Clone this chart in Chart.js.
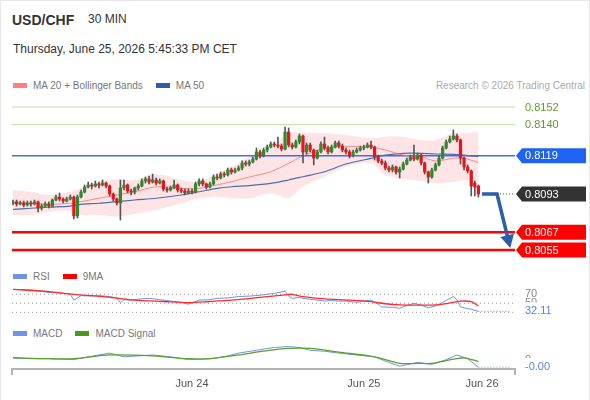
<!DOCTYPE html>
<html>
<head>
<meta charset="utf-8">
<title>USD/CHF 30 MIN</title>
<script src="https://cdn.jsdelivr.net/npm/chart.js@4.4.1/dist/chart.umd.min.js"></script>
<style>
  html, body { margin: 0; padding: 0; background: #fff; }
  body { width: 590px; height: 400px; position: relative; overflow: hidden;
         font-family: "Liberation Sans", Arial, sans-serif; }
  #frame { position: absolute; left: 0; top: 0; width: 590px; height: 400px; box-sizing: border-box;
           border: 1px solid #e6e6e6; border-bottom: none; pointer-events: none; }
  canvas { position: absolute; left: 0; }
  .txt { position: absolute; white-space: nowrap; }
  .legend { position: absolute; left: 13px; font-size: 10px; line-height: 10px; color: #777; white-space: nowrap; }
  .legend span { margin-right: 13px; }
  .legend i { display: inline-block; width: 14px; height: 5px; margin-right: 6px; vertical-align: 1px; }
</style>
</head>
<body>
<div class="txt" style="left:12px;top:13px;font-size:14px;line-height:14px;font-weight:bold;color:#333">USD/CHF</div>
<div class="txt" style="left:88px;top:13px;font-size:12px;line-height:12px;color:#333">30 MIN</div>
<div class="txt" style="left:13px;top:43px;font-size:12px;line-height:12px;color:#333">Thursday, June 25, 2026 5:45:33 PM CET</div>
<div class="legend" style="top:81px"><span><i style="background:#ff7f7f"></i>MA 20 + Bollinger Bands</span><span><i style="background:#2d5ea8"></i>MA 50</span></div>
<div class="txt" style="right:5px;top:81px;font-size:10px;line-height:10px;color:#aaa">Research © 2026 Trading Central</div>
<canvas id="main" width="590" height="168" style="top:95px"></canvas>
<div class="legend" style="top:272px"><span><i style="background:#6f93ea"></i>RSI</span><span><i style="background:#ff0000"></i>9MA</span></div>
<canvas id="rsi" width="590" height="39" style="top:283px"></canvas>
<div class="legend" style="top:329px"><span><i style="background:#6f93ea"></i>MACD</span><span><i style="background:#4a9a1a"></i>MACD Signal</span></div>
<canvas id="macd" width="590" height="58" style="top:340px"></canvas>
<div id="frame"></div>

<script>
// ---- candles, 30 min, one per slot (index 0 = first candle on the left)
const open = [
  0.80869,0.80876,0.80862,0.80869,0.80855,0.80869,0.80862,0.80876,0.80835,0.80848,
  0.80862,0.80848,0.80889,0.80909,0.80896,0.80882,0.80896,0.80909,0.80781,0.80909,
  0.80943,0.80977,0.80991,0.80984,0.80998,0.80991,0.81004,0.80984,0.80930,0.80896,
  0.80869,0.80971,0.80991,0.80950,0.80943,0.80971,0.80984,0.81018,0.81032,0.81011,
  0.81025,0.81004,0.81018,0.80964,0.80957,0.80971,0.80991,0.80957,0.80950,0.80937,
  0.80950,0.80943,0.80998,0.81018,0.80998,0.80977,0.80998,0.81045,0.81038,0.81065,
  0.81059,0.81093,0.81079,0.81093,0.81106,0.81140,0.81133,0.81147,0.81167,0.81215,
  0.81188,0.81228,0.81249,0.81269,0.81262,0.81255,0.81235,0.81350,0.81262,0.81249,
  0.81283,0.81323,0.81215,0.81262,0.81228,0.81174,0.81215,0.81269,0.81242,0.81215,
  0.81249,0.81276,0.81255,0.81228,0.81215,0.81188,0.81215,0.81228,0.81242,0.81249,
  0.81262,0.81249,0.81181,0.81154,0.81140,0.81106,0.81093,0.81113,0.81079,0.81099,
  0.81133,0.81160,0.81181,0.81167,0.81194,0.81140,0.81079,0.81045,0.81093,0.81127,
  0.81174,0.81242,0.81283,0.81303,0.81323,0.81296,0.81174,0.81113,0.81086,0.81004,
  0.80984];
const high = [
  0.80889,0.80889,0.80882,0.80882,0.80882,0.80882,0.80889,0.80882,0.80862,0.80876,
  0.80876,0.80896,0.80923,0.80937,0.80903,0.80909,0.80923,0.80916,0.80923,0.80957,
  0.80991,0.81011,0.81004,0.81018,0.81011,0.81025,0.81011,0.80991,0.80937,0.80903,
  0.81025,0.81025,0.80998,0.80964,0.80977,0.80998,0.81032,0.81045,0.81052,0.81065,
  0.81038,0.81032,0.81025,0.80977,0.80984,0.81025,0.80998,0.80971,0.80964,0.80964,
  0.80964,0.81011,0.81032,0.81032,0.81004,0.81011,0.81059,0.81065,0.81079,0.81079,
  0.81106,0.81106,0.81106,0.81120,0.81154,0.81154,0.81160,0.81181,0.81242,0.81228,
  0.81242,0.81262,0.81283,0.81283,0.81316,0.81269,0.81384,0.81378,0.81276,0.81296,
  0.81337,0.81330,0.81276,0.81276,0.81235,0.81228,0.81283,0.81316,0.81255,0.81262,
  0.81289,0.81289,0.81269,0.81242,0.81228,0.81228,0.81242,0.81255,0.81262,0.81276,
  0.81289,0.81255,0.81194,0.81167,0.81154,0.81120,0.81127,0.81120,0.81113,0.81147,
  0.81174,0.81194,0.81262,0.81208,0.81201,0.81147,0.81086,0.81106,0.81140,0.81188,
  0.81255,0.81296,0.81323,0.81364,0.81337,0.81303,0.81181,0.81127,0.81093,0.81018,
  0.80991];
const low = [
  0.80855,0.80848,0.80855,0.80842,0.80848,0.80848,0.80855,0.80808,0.80821,0.80842,
  0.80835,0.80842,0.80882,0.80882,0.80869,0.80876,0.80889,0.80760,0.80767,0.80903,
  0.80937,0.80971,0.80964,0.80977,0.80971,0.80984,0.80971,0.80916,0.80882,0.80855,
  0.80753,0.80957,0.80937,0.80923,0.80930,0.80957,0.80977,0.81004,0.80998,0.81004,
  0.80991,0.80998,0.80950,0.80943,0.80950,0.80964,0.80943,0.80937,0.80923,0.80930,
  0.80930,0.80937,0.80984,0.80984,0.80964,0.80971,0.80991,0.81025,0.81032,0.81045,
  0.81052,0.81065,0.81072,0.81086,0.81093,0.81120,0.81120,0.81140,0.81160,0.81174,
  0.81181,0.81215,0.81242,0.81249,0.81242,0.81221,0.81228,0.81249,0.81235,0.81242,
  0.81269,0.81140,0.81201,0.81215,0.81127,0.81167,0.81208,0.81228,0.81201,0.81208,
  0.81242,0.81242,0.81215,0.81201,0.81174,0.81181,0.81208,0.81221,0.81228,0.81242,
  0.81235,0.81160,0.81140,0.81127,0.81093,0.81079,0.81079,0.81065,0.81038,0.81093,
  0.81127,0.81154,0.81154,0.81160,0.81127,0.81065,0.81004,0.81038,0.81086,0.81120,
  0.81167,0.81235,0.81276,0.81296,0.81283,0.81133,0.81093,0.81072,0.80916,0.80916,
  0.80909];
const close = [
  0.80876,0.80862,0.80869,0.80855,0.80869,0.80862,0.80876,0.80835,0.80848,0.80862,
  0.80848,0.80889,0.80909,0.80896,0.80882,0.80896,0.80909,0.80781,0.80909,0.80943,
  0.80977,0.80991,0.80984,0.80998,0.80991,0.81004,0.80984,0.80930,0.80896,0.80869,
  0.80971,0.80991,0.80950,0.80943,0.80971,0.80984,0.81018,0.81032,0.81011,0.81025,
  0.81004,0.81018,0.80964,0.80957,0.80971,0.80991,0.80957,0.80950,0.80937,0.80950,
  0.80943,0.80998,0.81018,0.80998,0.80977,0.80998,0.81045,0.81038,0.81065,0.81059,
  0.81093,0.81079,0.81093,0.81106,0.81140,0.81133,0.81147,0.81167,0.81215,0.81188,
  0.81228,0.81249,0.81269,0.81262,0.81255,0.81235,0.81350,0.81262,0.81249,0.81283,
  0.81323,0.81215,0.81262,0.81228,0.81174,0.81215,0.81269,0.81242,0.81215,0.81249,
  0.81276,0.81255,0.81228,0.81215,0.81188,0.81215,0.81228,0.81242,0.81249,0.81262,
  0.81249,0.81181,0.81154,0.81140,0.81106,0.81093,0.81113,0.81079,0.81099,0.81133,
  0.81160,0.81181,0.81167,0.81194,0.81140,0.81079,0.81045,0.81093,0.81127,0.81174,
  0.81242,0.81283,0.81303,0.81323,0.81296,0.81174,0.81113,0.81086,0.80984,0.80977,
  0.80930];

// ---- overlays at these candle indexes
const maIdx   = [0,5,10,16,19,24,29,34,40,47,52,57,61,66,72,77,81,87,93,100,104,109,114,118,123,126,130];
const ma20    = [0.80871,0.80867,0.80860,0.80867,0.80878,0.80901,0.80923,0.80945,0.80979,0.80968,0.80968,0.80991,0.81013,0.81045,0.81081,0.81138,0.81188,0.81240,0.81251,0.81247,0.81228,0.81194,0.81183,0.81154,0.81172,0.81172,0.81143];
const bbUpper = [0.80957,0.80945,0.80923,0.80945,0.80968,0.81013,0.81030,0.81025,0.81065,0.81025,0.81013,0.81070,0.81115,0.81183,0.81251,0.81342,0.81346,0.81342,0.81330,0.81308,0.81319,0.81319,0.81296,0.81296,0.81342,0.81342,0.81352];
const bbLower = [0.80787,0.80787,0.80810,0.80816,0.80787,0.80787,0.80776,0.80794,0.80821,0.80867,0.80901,0.80911,0.80901,0.80901,0.80935,0.80901,0.80979,0.81047,0.81115,0.81138,0.81059,0.81032,0.81018,0.81004,0.81011,0.81025,0.81011];
const ma50    = [0.80826,0.80833,0.80840,0.80848,0.80860,0.80867,0.80878,0.80889,0.80901,0.80923,0.80945,0.80968,0.80979,0.80987,0.81002,0.81025,0.81047,0.81081,0.81133,0.81172,0.81194,0.81206,0.81206,0.81201,0.81199,0.81194,0.81183];

// key levels
const resistances = [0.8152, 0.8140];
const pivot = 0.8119;
const supports = [0.8067, 0.8055];
const lastPrice = 0.8093;
// scenario arrow (index, price)
const arrowIdx   = [131, 135.2, 138.1];
const arrowPrice = [0.8093, 0.8093, 0.80643];

// ---- RSI panel
const rsiIdx = [0,3,6,10,13,16,17,19,22,24,27,29,30,31,33,36,38,41,44,47,49,52,55,57,60,63,66,69,73,76,77,78,80,81,84,87,89,91,93,96,98,100,102,103,106,108,110,112,114,116,118,120,123,124,125,127,128,130];
const rsi    = [81,80,79,74,73,70,57,67,66,67,65,62,51,58,57,60,61,58,55,52,48,57,58,61,62,65,66,68,72,77,66,61,63,61,58,55,56,55,55,52,55,57,48,42,41,39,45,50,46,40,44,52,65,58,42,38,37,32.11];
const ma9Idx = [0,10,17,25,34,42,49,55,61,69,76,78,81,87,94,100,104,108,113,118,123,125,128,130];
const rsiMa9 = [81,76,70,65,57,54,51.6,54,57,63,68.5,70,64.7,59.8,57,53.6,49,46.4,46,46.4,52,54.9,53.6,44];
const rsiLevels = [70, 50, 30];

// ---- MACD panel
const macdIdx = [0,5,10,17,21,24,27,31,35,39,44,49,55,59,63,68,73,77,80,83,87,91,96,101,105,108,113,117,121,124,127,130];
const macd    = [0.0002,0.0001,0.0001,0.0000,0.0003,0.0005,0.0007,0.0003,0.0004,0.0005,0.0003,0.0000,0.0001,0.0003,0.0007,0.0010,0.0013,0.0014,0.0013,0.0010,0.0009,0.0007,0.0005,0.0003,-0.0003,-0.0007,-0.0003,-0.0005,0.0000,0.0005,0.0001,-0.0008];
const sigIdx  = [0,10,17,27,39,49,55,63,70,77,83,91,101,108,113,117,121,124,126,130];
const signal  = [0.0002,0.0001,0.0001,0.0005,0.0004,0.0001,0.0001,0.0005,0.0009,0.0012,0.0012,0.0008,0.0003,-0.0004,-0.0004,-0.0004,-0.0001,0.0001,0.0002,-0.0002];

// time axis
const tickIdx = [50, 98, 131];
const tickLabels = ['Jun 24', 'Jun 25', 'Jun 26'];

const X_MIN = -0.28, X_MAX = 140.22;
const PAD = { left: 12, right: 75, top: 0, bottom: 0 };
const FONT = '"Liberation Sans", Arial, sans-serif';
const UP = '#2f8a2f', DOWN = '#e8141c';

Chart.defaults.font.family = FONT;
Chart.defaults.animation = false;
Chart.defaults.responsive = false;
Chart.defaults.plugins.legend.display = false;
Chart.defaults.plugins.tooltip.enabled = false;
Chart.defaults.elements.point.radius = 0;

const pts = (xs, ys) => xs.map((x, k) => ({ x: x, y: ys[k] }));
const flat = v => [{ x: X_MIN, y: v }, { x: X_MAX, y: v }];
const isUp = i => close[i] >= open[i];

function line(data, color, width, extra) {
  return Object.assign({ type: 'line', data: data, borderColor: color, borderWidth: width,
    pointRadius: 0, fill: false, tension: 0 }, extra || {});
}

function tag(ctx, x, y, text, bg, fg) {
  const h = 15, w = 70;
  ctx.save();
  if (bg) {
    ctx.fillStyle = bg;
    ctx.beginPath();
    ctx.moveTo(x, y);
    ctx.lineTo(x + 6, y - h / 2);
    ctx.lineTo(x + w, y - h / 2);
    ctx.lineTo(x + w, y + h / 2);
    ctx.lineTo(x + 6, y + h / 2);
    ctx.closePath();
    ctx.fill();
  }
  ctx.fillStyle = fg;
  ctx.font = '11px ' + FONT;
  ctx.textBaseline = 'middle';
  ctx.fillText(text, x + 9, y + 0.5);
  ctx.restore();
}

const mainOverlay = {
  id: 'mainOverlay',
  afterDatasetsDraw(chart) {
    const { ctx, chartArea, scales: { y } } = chart;
    const x0 = chartArea.right + 1;
    resistances.forEach(v => tag(ctx, x0, y.getPixelForValue(v), v.toFixed(4), null, '#5a9e2f'));
    tag(ctx, x0, y.getPixelForValue(pivot), pivot.toFixed(4), '#1f63f2', '#fff');
    tag(ctx, x0, y.getPixelForValue(lastPrice), lastPrice.toFixed(4), '#333333', '#fff');
    supports.forEach(v => tag(ctx, x0, y.getPixelForValue(v), v.toFixed(4), '#ff0000', '#fff'));

    // arrow head at the end of the scenario line
    const meta = chart.getDatasetMeta(chart.data.datasets.findIndex(d => d.label === 'arrow'));
    const p = meta.data, a = p[p.length - 2], b = p[p.length - 1];
    const ang = Math.atan2(b.y - a.y, b.x - a.x);
    const len = 12, half = 7;
    ctx.save();
    ctx.fillStyle = '#2d5ea8';
    ctx.translate(b.x, b.y);
    ctx.rotate(ang);
    ctx.beginPath();
    ctx.moveTo(len, 0);
    ctx.lineTo(-1, -half);
    ctx.lineTo(-1, half);
    ctx.closePath();
    ctx.fill();
    ctx.restore();
  }
};

new Chart(document.getElementById('main'), {
  type: 'bar',
  data: {
    datasets: [
      { label: 'body', type: 'bar', grouped: false, order: 0, barThickness: 2.6, minBarLength: 1,
        data: open.map((o, i) => ({ x: i, y: [o, close[i]] })),
        backgroundColor: c => isUp(c.dataIndex) ? UP : DOWN },
      { label: 'wick', type: 'bar', grouped: false, order: 1, barThickness: 1, minBarLength: 1,
        data: open.map((o, i) => ({ x: i, y: [low[i], high[i]] })),
        backgroundColor: '#555' },
      line(pts(maIdx, ma20), 'rgba(255,105,105,0.75)', 1, { order: 2, tension: 0.3 }),
      line(pts(maIdx, ma50), '#4a6fb0', 1.2, { order: 2, tension: 0.3 }),
      line(flat(resistances[0]), '#b9dca2', 1, { order: 3 }),
      line(flat(resistances[1]), '#b9dca2', 1, { order: 3 }),
      line(flat(pivot), '#3b6ef0', 1.5, { order: 3 }),
      line(flat(supports[0]), '#ff0000', 2.5, { order: 3 }),
      line(flat(supports[1]), '#ff0000', 2.5, { order: 3 }),
      line([{ x: 135.2, y: lastPrice }, { x: X_MAX, y: lastPrice }], '#555', 1, { order: 3, borderDash: [1, 2] }),
      line(pts(arrowIdx, arrowPrice), '#2d5ea8', 3.5, { label: 'arrow', order: -1, borderJoinStyle: 'miter', clip: false }),
      line(pts(maIdx, bbUpper), 'rgba(0,0,0,0)', 0,
        { order: 5, tension: 0.3, fill: '+1', backgroundColor: 'rgba(250,110,110,0.19)' }),
      line(pts(maIdx, bbLower), 'rgba(0,0,0,0)', 0, { order: 5, tension: 0.3 })
    ]
  },
  options: {
    layout: { padding: PAD },
    scales: {
      x: { type: 'linear', min: X_MIN, max: X_MAX, offset: false, display: false },
      y: { min: 0.804617, max: 0.816014, display: false }
    }
  },
  plugins: [mainOverlay]
});

// right-hand value labels for the lower panels
function sideLabels(chart, items) {
  const { ctx, chartArea, scales: { y } } = chart;
  const x = chartArea.right + 10;
  ctx.save();
  ctx.font = '11px ' + FONT;
  ctx.textBaseline = 'middle';
  items.forEach(it => {
    const py = y.getPixelForValue(it.v);
    if (it.bg) {
      ctx.fillStyle = '#fff';
      ctx.fillRect(x - 2, py - 9, 40, 17);
    }
    ctx.fillStyle = it.color;
    ctx.fillText(it.t, x, py);
  });
  ctx.restore();
}

new Chart(document.getElementById('rsi'), {
  type: 'line',
  data: {
    datasets: [
      line(pts(rsiIdx, rsi), '#6f93ea', 1, { order: 1 }),
      line(pts(ma9Idx, rsiMa9), '#ff2a2a', 1.3, { order: 0, tension: 0.3 }),
      ...rsiLevels.map(v => line(flat(v), '#9a9a9a', 1, { order: 2, borderDash: [1, 3] })),
      line([{ x: 130, y: rsi[rsi.length - 1] }, { x: 139.2, y: rsi[rsi.length - 1] }], '#6f93ea', 1, { order: 1, borderDash: [1, 2] })
    ]
  },
  options: {
    layout: { padding: PAD },
    scales: {
      x: { type: 'linear', min: X_MIN, max: X_MAX, display: false },
      y: { min: 8.44, max: 95.1, display: false }
    }
  },
  plugins: [{
    id: 'rsiLabels',
    afterDraw(chart) {
      sideLabels(chart, [
        { v: 70, t: '70', color: '#888' },
        { v: 50, t: '50', color: '#888' },
        { v: rsi[rsi.length - 1], t: rsi[rsi.length - 1].toFixed(2), color: '#5b7fe0', bg: true }
      ]);
    }
  }]
});

new Chart(document.getElementById('macd'), {
  type: 'line',
  data: {
    datasets: [
      line(pts(macdIdx, macd), '#6f93ea', 1, { order: 1 }),
      line(pts(sigIdx, signal), '#5aa02c', 1.3, { order: 0, tension: 0.3 }),
      line([{ x: 130, y: macd[macd.length - 1] }, { x: 139.2, y: macd[macd.length - 1] }], '#6f93ea', 1, { order: 1, borderDash: [1, 2] })
    ]
  },
  options: {
    layout: { padding: PAD },
    scales: {
      x: {
        type: 'linear', min: X_MIN, max: X_MAX,
        afterBuildTicks: ax => { ax.ticks = tickIdx.map(v => ({ value: v })); },
        ticks: { autoSkip: false, maxRotation: 0, padding: 8, color: '#555', font: { size: 11 },
                 callback: v => tickLabels[tickIdx.indexOf(v)] },
        grid: { display: false, drawTicks: false },
        border: { color: '#b3b3b3', width: 2 }
      },
      y: { min: -0.001, max: 0.0021, display: false }
    }
  },
  plugins: [{
    id: 'macdLabels',
    afterDraw(chart) {
      const last = macd[macd.length - 1];
      sideLabels(chart, [
        { v: 0, t: '0', color: '#888' },
        { v: last, t: last.toFixed(2), color: '#5b7fe0', bg: true }
      ]);
      // end ticks of the time axis
      const { ctx, chartArea } = chart;
      ctx.save();
      ctx.strokeStyle = '#b3b3b3';
      ctx.lineWidth = 2;
      [chartArea.left, chartArea.right].forEach(x => {
        ctx.beginPath();
        ctx.moveTo(x, chartArea.bottom);
        ctx.lineTo(x, chartArea.bottom + 6);
        ctx.stroke();
      });
      ctx.restore();
    }
  }]
});
</script>
</body>
</html>
